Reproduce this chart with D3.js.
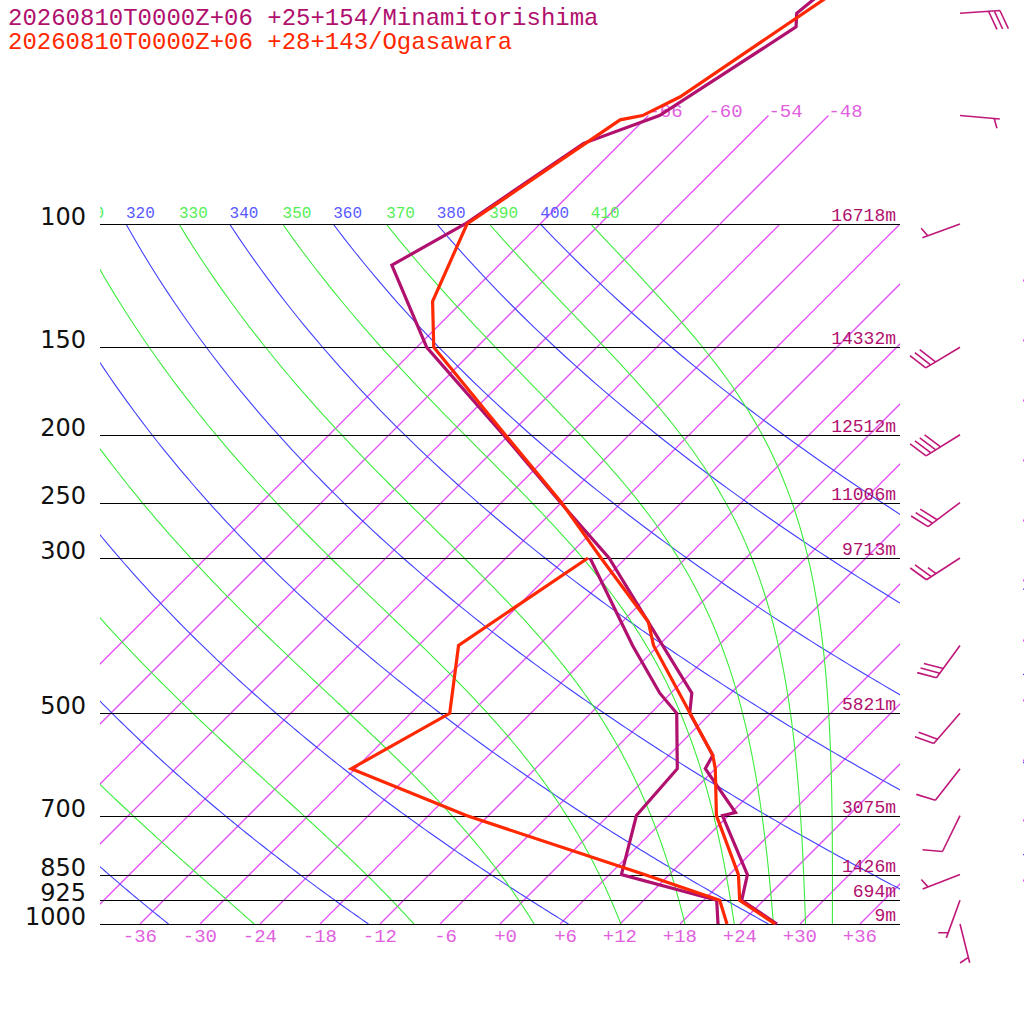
<!DOCTYPE html>
<html>
<head>
<meta charset="utf-8">
<script src="https://cdn.jsdelivr.net/npm/d3@7"></script>
<style>
  body { margin: 0; background: #fff; }
  svg { display: block; }
  .mono { font-family: "Liberation Mono", "DejaVu Sans Mono", monospace; }
</style>
</head>
<body>
<script>
// --- data ---
const stations = ["20260810T0000Z+06 +25+154/Minamitorishima", "20260810T0000Z+06 +28+143/Ogasawara"];
const stationColors = ["#b0106e", "#ff2800"];

const isobars = [1000, 925, 850, 700, 500, 300, 250, 200, 150, 100];
const isobarLabels = ["1000", "925", "850", "700", "500", "300", "250", "200", "150", "100"];
const heightLabels = ["9m", "694m", "1426m", "3075m", "5821m", "9713m", "11006m", "12512m", "14332m", "16718m"];

// Minamitorishima temperature / dew point
const t1P = [1000, 925, 850, 700, 693, 600, 574, 500, 468, 300, 250, 200, 150, 114.5, 100, 76.7, 70, 52.3, 50, 40];
const t1T = [27.7, 21.8, 19.8, 11.4, 12.4, 5.0, 4.4, -2.1, -3.9, -25.7, -36.1, -48.6, -65.0, -76.7, -73.5, -69.7, -64.9, -60.1, -61.4, -59.9];
const d1P = [1000, 925, 850, 700, 600, 500, 468, 400, 300];
const d1T = [21.8, 19.3, 7.2, 2.8, 2.2, -3.4, -7.1, -14.6, -27.6];

// Ogasawara temperature / dew point
const t2P = [1000, 925, 850, 700, 600, 574, 400, 370, 300, 250, 200, 150, 129, 100, 71, 70, 65.8, 40];
const t2T = [27.5, 21.6, 18.9, 10.8, 6.0, 4.4, -12.5, -15.4, -26.5, -36.0, -48.4, -64.3, -69.0, -73.3, -68.4, -66.6, -64.7, -57.5];
const d2P = [1000, 925, 850, 700, 600, 500, 400, 300];
const d2T = [22.7, 19.6, 9.5, -14.2, -30.4, -26.1, -32.0, -27.8];

// Minamitorishima winds (deg from, knots)
const windP = [1000, 925, 850, 700, 600, 500, 400, 300, 250, 200, 150, 100, 70, 50];
const windDir = [166, 200, 249, 206, 218, 221, 216, 237, 233, 238, 239, 250, 95, 86];
const windSpd = [5, 5, 5, 10, 10, 20, 30, 25, 30, 40, 30, 5, 5, 30];

// background grid values
const isotherms = d3.range(-66, 49, 6);
const isothermTicks = d3.range(-36, 37, 6);
const dryAdiabats = [240, 260, 280, 300, 320, 340, 360, 380, 400];
const moistAdiabats = [250, 270, 290, 310, 330, 350, 370, 390, 410];

// --- layout ---
const left = 100, right = 900, bottom = 924, top100 = 224;

const y = d3.scaleLog().domain([1000, 100]).range([bottom, top100]);
const xT = d3.scaleLinear().domain([-40, 40]).range([left, right]);
const skewX = (t, p) => xT(t) + (bottom - y(p));

const svg = d3.select("body").append("svg")
  .attr("width", 1024).attr("height", 1024);

const defs = svg.append("defs");
const cp = defs.append("clipPath").attr("id", "plot");
cp.append("rect").attr("x", left).attr("y", top100).attr("width", right - left).attr("height", bottom - top100);
cp.append("rect").attr("x", 1023).attr("y", top100).attr("width", 1).attr("height", bottom - top100);
defs.append("clipPath").attr("id", "lab")
  .append("rect").attr("x", left).attr("y", 0).attr("width", right - left).attr("height", bottom);

const line = d3.line().x(d => d[0]).y(d => d[1]);

// pressures used to trace the curved lines
const trace = d3.range(1000, 99, -5);

function dryT(theta, p) { return theta * Math.pow(p / 1000, 0.2857) - 273.15; }

function thetaE(tk, p) {
  const es = 6.112 * Math.exp(17.67 * (tk - 273.15) / (tk - 29.65));
  if (es > 0.8 * p) return Infinity;
  const r = 622 * es / (p - es);
  const th = tk * Math.pow(1000 / p, 0.2854 * (1 - 0.00028 * r));
  return th * Math.exp((3.376 / tk - 0.00254) * r * (1 + 0.00081 * r));
}
function moistT(te, p) {
  let lo = 120, hi = 340;
  for (let i = 0; i < 60; i++) {
    const mid = (lo + hi) / 2;
    if (thetaE(mid, p) > te) hi = mid; else lo = mid;
  }
  return (lo + hi) / 2 - 273.15;
}

const isoColor = "#e050f2";

const grid = svg.append("g").attr("clip-path", "url(#plot)").attr("fill", "none");

// isotherms
grid.selectAll("line.iso").data(isotherms).join("line")
  .attr("class", "iso")
  .attr("x1", t => skewX(t, 1000)).attr("y1", y(1000))
  .attr("x2", t => skewX(t, 100)).attr("y2", y(100))
  .attr("stroke", isoColor).attr("stroke-width", 1.3);

// dry adiabats
grid.selectAll("path.dry").data(dryAdiabats).join("path")
  .attr("class", "dry")
  .attr("stroke", "#4040ff").attr("stroke-width", 1.1)
  .attr("d", th => line(trace.map(p => [skewX(dryT(th, p), p), y(p)])));

// moist adiabats
grid.selectAll("path.moist").data(moistAdiabats).join("path")
  .attr("class", "moist")
  .attr("stroke", "#3cec3c").attr("stroke-width", 1.1)
  .attr("d", te => line(trace.map(p => [skewX(moistT(te, p), p), y(p)])));

// upper isotherm section 100 -> 70 hPa
const upperIso = isotherms.filter(t => t <= -48);
svg.append("g").selectAll("line").data(upperIso).join("line")
  .attr("x1", t => skewX(t, 100)).attr("y1", y(100))
  .attr("x2", t => skewX(t, 70)).attr("y2", y(70))
  .attr("stroke", isoColor).attr("stroke-width", 1.3);

svg.append("g").attr("class", "mono").selectAll("text").data(upperIso).join("text")
  .attr("x", t => skewX(t, 70)).attr("y", y(70) + 1)
  .attr("font-size", 19).attr("fill", "#e060e0")
  .text(t => (t < 0 ? "-" : "+") + Math.abs(t));

// theta labels at 100 hPa; characters that fall left of the frame are cut off
const labSize = 16, charW = labSize * 0.6;
function cutLabel(x, s) {
  let k = 0;
  while (k < s.length - 1 && x + (k + 1) * charW <= left) k++;
  return { x: x + k * charW, s: s.slice(k) };
}
const thetaLabels = [
  ...dryAdiabats.filter(d => d >= 300).map(th => ({ x: skewX(dryT(th, 100), 100), s: String(th), c: "#5a5aff" })),
  ...moistAdiabats.filter(d => d >= 310).map(te => ({ x: skewX(moistT(te, 100), 100), s: String(te), c: "#55ee55" }))
].filter(d => d.x + d.s.length * charW > left);

svg.append("g").attr("class", "mono").attr("clip-path", "url(#lab)")
  .attr("font-size", labSize)
  .selectAll("text").data(thetaLabels).join("text")
  .attr("x", d => cutLabel(d.x, d.s).x).attr("y", y(100) - 6)
  .attr("fill", d => d.c)
  .text(d => cutLabel(d.x, d.s).s);

// isobars
svg.append("g").style("shape-rendering", "crispEdges")
  .selectAll("line").data(isobars).join("line")
  .attr("x1", left).attr("x2", right)
  .attr("y1", p => Math.round(y(p))).attr("y2", p => Math.round(y(p)))
  .attr("stroke", "#000").attr("stroke-width", 1);

svg.append("g").selectAll("text").data(isobars).join("text")
  .attr("x", 86).attr("y", p => y(p) + 1)
  .attr("text-anchor", "end")
  .attr("font-family", "DejaVu Sans, sans-serif").attr("font-size", 24)
  .attr("fill", "#111")
  .text((p, i) => isobarLabels[i]);

svg.append("g").attr("class", "mono").selectAll("text").data(isobars).join("text")
  .attr("x", 896).attr("y", p => y(p) - 3)
  .attr("text-anchor", "end").attr("font-size", 18)
  .attr("fill", stationColors[0])
  .text((p, i) => heightLabels[i]);

// temperature ticks along the bottom
svg.append("g").attr("class", "mono").selectAll("text").data(isothermTicks).join("text")
  .attr("x", t => xT(t) + 17).attr("y", 942)
  .attr("text-anchor", "end").attr("font-size", 19)
  .attr("fill", "#e060e0")
  .text(t => (t < 0 ? "-" : "+") + Math.abs(t));

// soundings
const profiles = [
  { P: d1P, T: d1T, c: stationColors[0] },
  { P: t1P, T: t1T, c: stationColors[0] },
  { P: d2P, T: d2T, c: stationColors[1] },
  { P: t2P, T: t2T, c: stationColors[1] }
];
svg.append("g").selectAll("path").data(profiles).join("path")
  .attr("fill", "none")
  .attr("stroke", d => d.c).attr("stroke-width", 3.2)
  .attr("d", d => line(d.P.map((p, i) => [skewX(d.T[i], p), y(p)])));

// wind barbs
const staff = 40, barbLen = 20, halfLen = 10, step = 5.7, ang = 69 * Math.PI / 180;
function barbPath(p, dir, spd) {
  const x0 = 960, y0 = y(p);
  const a = dir * Math.PI / 180;
  const ux = Math.sin(a), uy = -Math.cos(a);
  const bx = ux * Math.cos(ang) - uy * Math.sin(ang);
  const by = ux * Math.sin(ang) + uy * Math.cos(ang);
  const tx = x0 + staff * ux, ty = y0 + staff * uy;
  let d = `M${x0},${y0}L${tx},${ty}`;
  let n = Math.floor(spd / 10), half = (spd % 10) >= 5;
  let k = 0;
  for (let i = 0; i < n; i++, k++) {
    const ax = tx - k * step * ux, ay = ty - k * step * uy;
    d += `M${ax},${ay}L${ax + barbLen * bx},${ay + barbLen * by}`;
  }
  if (half) {
    if (k === 0) k = 1;
    const ax = tx - k * step * ux, ay = ty - k * step * uy;
    d += `M${ax},${ay}L${ax + halfLen * bx},${ay + halfLen * by}`;
  }
  return d;
}
svg.append("g").selectAll("path").data(windP).join("path")
  .attr("fill", "none").attr("stroke", "#c0187a").attr("stroke-width", 1.6)
  .attr("d", (p, i) => barbPath(p, windDir[i], windSpd[i]));

// title
svg.append("g").attr("class", "mono").selectAll("text").data(stations).join("text")
  .attr("x", 8).attr("y", (d, i) => 25 + i * 24)
  .attr("font-size", 24)
  .attr("fill", (d, i) => stationColors[i])
  .text(d => d);
</script>
</body>
</html>
